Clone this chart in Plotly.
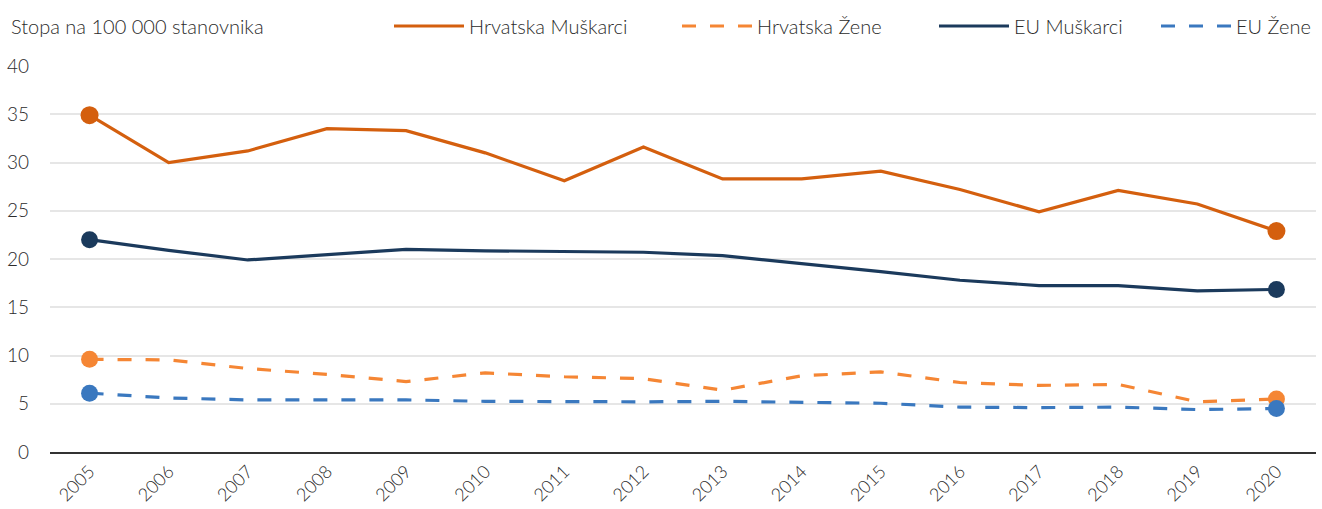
import plotly.graph_objects as go

years = [str(y) for y in range(2005, 2021)]
hr_muskarci = [34.9, 30.0, 31.2, 33.5, 33.3, 31.0, 28.1, 31.6, 28.3, 28.3, 29.1, 27.2, 24.9, 27.1, 25.7, 22.9]
hr_zene = [9.6, 9.55, 8.65, 8.05, 7.3, 8.2, 7.8, 7.6, 6.4, 7.9, 8.3, 7.2, 6.9, 7.0, 5.2, 5.5]
eu_muskarci = [22.0, 20.9, 19.9, 20.45, 21.0, 20.85, 20.75, 20.7, 20.35, 19.55, 18.7, 17.8, 17.25, 17.25, 16.7, 16.85]
eu_zene = [6.1, 5.6, 5.4, 5.4, 5.4, 5.25, 5.2, 5.2, 5.25, 5.15, 5.05, 4.65, 4.6, 4.65, 4.4, 4.5]

L, R, T, B = 50, 6, 66, 57
PW = 1322 - L - R
PH = 509 - T - B
TXT = "#2b2b2b"

series = [
    ("Hrvatska Muškarci", hr_muskarci, "#D45F0E", "solid", 18, "legend", (389 - L) / PW, "left"),
    ("Hrvatska Žene", hr_zene, "#F58634", "14px,14px", 17, "legend2", (677 - L) / PW, "left"),
    ("EU Muškarci", eu_muskarci, "#1B3A5C", "solid", 17, "legend3", (934 - L) / PW, "left"),
    ("EU Žene", eu_zene, "#3A78BF", "14px,14px", 17, "legend4", 1.0, "right"),
]

fig = go.Figure()
for name, vals, color, dash, msize, leg, lx, anc in series:
    fig.add_trace(go.Scatter(
        x=years, y=vals, mode="lines", name=name, legend=leg,
        line=dict(color=color, width=3.2, dash=dash),
        hoverinfo="skip",
    ))
for name, vals, color, dash, msize, leg, lx, anc in series:
    fig.add_trace(go.Scatter(
        x=[years[0], years[-1]], y=[vals[0], vals[-1]], mode="markers",
        marker=dict(color=color, size=msize), showlegend=False,
        hoverinfo="skip",
    ))

font_family = "Lato, 'Open Sans', sans-serif"
legends = {}
for name, vals, color, dash, msize, leg, lx, anc in series:
    legends[leg] = dict(
        orientation="h", x=lx, xanchor=anc,
        y=1 + (T - 26) / PH, yanchor="middle",
        font=dict(size=20, color=TXT, family=font_family, weight=300),
        itemwidth=70, bgcolor="rgba(0,0,0,0)", borderwidth=0,
    )

fig.update_layout(
    width=1322, height=509,
    margin=dict(l=L, r=R, t=T, b=B),
    paper_bgcolor="white", plot_bgcolor="white",
    font=dict(family=font_family, size=19, color=TXT, weight=300),
    showlegend=True,
    xaxis=dict(
        type="category", range=[-0.5, 15.5], showgrid=False,
        tickangle=-45, tickfont=dict(size=18, color=TXT, weight=300),
        ticks="", showline=True, linecolor="#333333", linewidth=2,
        automargin=False,
    ),
    yaxis=dict(
        range=[0, 40], dtick=5, showgrid=True, gridcolor="#E6E6E6", gridwidth=1.5,
        zeroline=False, ticks="", ticklabelstandoff=20,
        tickfont=dict(size=19, color=TXT, weight=300), automargin=False,
    ),
    **legends,
)

fig.add_annotation(
    text="Stopa na 100 000 stanovnika", xref="paper", yref="paper",
    x=(10 - L) / PW, y=1 + (T - 26) / PH, xanchor="left", yanchor="middle",
    showarrow=False, font=dict(size=20, color=TXT, weight=300),
    borderpad=0,
)

fig.write_html("out.html", config={"displayModeBar": False},
               post_script="document.body.style.margin='0';")
